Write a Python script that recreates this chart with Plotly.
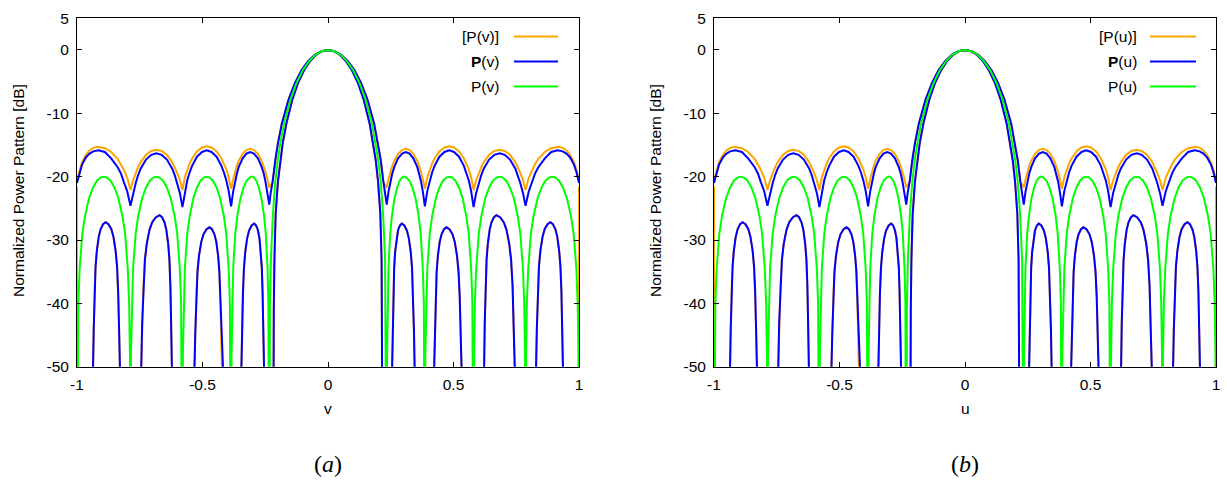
import plotly.graph_objects as go

# ---------------- data ----------------
X_TICKS = [-1, -0.5, 0, 0.5, 1]
X_TICKTEXT = ["-1", "-0.5", "0", "0.5", "1"]
Y_TICKS = [-50, -40, -30, -20, -10, 0, 5]
Y_TICKTEXT = ["-50", "-40", "-30", "-20", "-10", "0", "5"]

# upper bound of [P] (orange)
ORANGE_UP = [
    (-1.000, -20.5), (-0.990, -18.9), (-0.980, -17.7), (-0.965, -16.6), (-0.950, -15.85),
    (-0.935, -15.45), (-0.918, -15.3), (-0.889, -15.5), (-0.864, -16.1), (-0.838, -17.2),
    (-0.825, -18.0), (-0.813, -18.95), (-0.800, -20.15), (-0.787, -22.1),
    (-0.777, -20.6), (-0.766, -19.4), (-0.756, -18.45), (-0.746, -17.7), (-0.725, -16.55),
    (-0.704, -15.95), (-0.684, -15.75), (-0.663, -15.95), (-0.642, -16.55), (-0.621, -17.7),
    (-0.611, -18.45), (-0.601, -19.4), (-0.590, -20.6), (-0.580, -22.1),
    (-0.570, -20.05), (-0.561, -18.85), (-0.551, -17.9), (-0.541, -17.1), (-0.522, -16.0),
    (-0.502, -15.4), (-0.483, -15.2), (-0.464, -15.4), (-0.444, -16.0), (-0.425, -17.1),
    (-0.415, -17.9), (-0.405, -18.85), (-0.396, -20.05), (-0.386, -21.9),
    (-0.378, -20.45), (-0.371, -19.25), (-0.363, -18.3), (-0.356, -17.5), (-0.340, -16.4),
    (-0.325, -15.8), (-0.310, -15.6), (-0.295, -15.8), (-0.279, -16.4), (-0.264, -17.5),
    (-0.256, -18.3), (-0.249, -19.25), (-0.241, -20.45), (-0.234, -21.7),
    (-0.2205, -20.8), (-0.210, -17.37), (-0.1995, -14.74), (-0.184, -11.64), (-0.1575, -7.88),
    (-0.131, -5.17), (-0.105, -3.18), (-0.079, -1.75), (-0.0525, -0.76), (-0.026, -0.19),
    (0.000, 0.0),
    (0.026, -0.19), (0.0525, -0.76), (0.079, -1.75), (0.105, -3.18), (0.131, -5.17),
    (0.1575, -7.88), (0.184, -11.64), (0.1995, -14.74), (0.210, -17.37), (0.2205, -20.8),
    (0.234, -21.7), (0.241, -20.45), (0.249, -19.25), (0.256, -18.3), (0.264, -17.5),
    (0.279, -16.4), (0.295, -15.8), (0.310, -15.6), (0.325, -15.8), (0.340, -16.4),
    (0.356, -17.5), (0.363, -18.3), (0.371, -19.25), (0.378, -20.45), (0.386, -21.9),
    (0.396, -20.05), (0.405, -18.85), (0.415, -17.9), (0.425, -17.1), (0.444, -16.0),
    (0.464, -15.4), (0.483, -15.2), (0.502, -15.4), (0.522, -16.0), (0.541, -17.1),
    (0.551, -17.9), (0.561, -18.85), (0.570, -20.05), (0.580, -22.1),
    (0.590, -20.6), (0.601, -19.4), (0.611, -18.45), (0.621, -17.7), (0.642, -16.55),
    (0.663, -15.95), (0.684, -15.75), (0.704, -15.95), (0.725, -16.55), (0.746, -17.7),
    (0.756, -18.45), (0.766, -19.4), (0.777, -20.6), (0.787, -22.1),
    (0.800, -20.15), (0.813, -18.95), (0.825, -18.0), (0.838, -17.2), (0.864, -16.1),
    (0.889, -15.5), (0.918, -15.3), (0.935, -15.45), (0.950, -15.85), (0.965, -16.6),
    (0.980, -17.7), (0.990, -18.9), (1.000, -20.5),
]

# upper bound of bold P (blue)
BLUE_UP = [
    (-1.000, -21.0), (-0.990, -19.3), (-0.980, -18.1), (-0.965, -17.0), (-0.950, -16.35),
    (-0.935, -16.0), (-0.915, -15.85), (-0.889, -16.1), (-0.864, -17.1), (-0.838, -18.5),
    (-0.825, -19.5), (-0.813, -20.9), (-0.800, -22.3), (-0.787, -24.6),
    (-0.777, -22.6), (-0.766, -21.0), (-0.756, -19.7), (-0.746, -18.7), (-0.725, -17.3),
    (-0.704, -16.55), (-0.684, -16.3), (-0.663, -16.55), (-0.642, -17.3), (-0.621, -18.7),
    (-0.611, -19.7), (-0.601, -21.0), (-0.590, -22.6), (-0.580, -24.8),
    (-0.570, -22.2), (-0.561, -20.6), (-0.551, -19.3), (-0.541, -18.25), (-0.522, -16.85),
    (-0.502, -16.1), (-0.483, -15.85), (-0.464, -16.1), (-0.444, -16.85), (-0.425, -18.25),
    (-0.415, -19.3), (-0.405, -20.6), (-0.396, -22.2), (-0.386, -24.7),
    (-0.378, -22.4), (-0.371, -20.8), (-0.363, -19.5), (-0.356, -18.5), (-0.340, -17.1),
    (-0.325, -16.35), (-0.310, -16.1), (-0.295, -16.35), (-0.279, -17.1), (-0.264, -18.5),
    (-0.256, -19.5), (-0.249, -20.8), (-0.241, -22.4), (-0.234, -24.4),
    (-0.2285, -22.6), (-0.2205, -20.8), (-0.210, -17.37), (-0.1995, -14.74), (-0.184, -11.64),
    (-0.1575, -7.88), (-0.131, -5.17), (-0.105, -3.18), (-0.079, -1.75), (-0.0525, -0.76),
    (-0.026, -0.19), (0.000, 0.0),
    (0.026, -0.19), (0.0525, -0.76), (0.079, -1.75), (0.105, -3.18), (0.131, -5.17),
    (0.1575, -7.88), (0.184, -11.64), (0.1995, -14.74), (0.210, -17.37), (0.2205, -20.8),
    (0.2285, -22.6), (0.234, -24.4), (0.241, -22.4), (0.249, -20.8), (0.256, -19.5),
    (0.264, -18.5), (0.279, -17.1), (0.295, -16.35), (0.310, -16.1), (0.325, -16.35),
    (0.340, -17.1), (0.356, -18.5), (0.363, -19.5), (0.371, -20.8), (0.378, -22.4),
    (0.386, -24.7),
    (0.396, -22.2), (0.405, -20.6), (0.415, -19.3), (0.425, -18.25), (0.444, -16.85),
    (0.464, -16.1), (0.483, -15.85), (0.502, -16.1), (0.522, -16.85), (0.541, -18.25),
    (0.551, -19.3), (0.561, -20.6), (0.570, -22.2), (0.580, -24.8),
    (0.590, -22.6), (0.601, -21.0), (0.611, -19.7), (0.621, -18.7), (0.642, -17.3),
    (0.663, -16.55), (0.684, -16.3), (0.704, -16.55), (0.725, -17.3), (0.746, -18.7),
    (0.756, -19.7), (0.766, -21.0), (0.777, -22.6), (0.787, -24.6),
    (0.800, -22.3), (0.813, -20.9), (0.825, -19.5), (0.838, -18.5), (0.864, -17.1),
    (0.889, -16.1), (0.915, -15.85), (0.935, -16.0), (0.950, -16.35), (0.965, -17.0),
    (0.980, -18.1), (0.990, -19.3), (1.000, -21.0),
]

# lower bound (blue bold P; orange [P] lies underneath)
LOWER = [
    (-0.999, -80.0), (-0.936, -50.0), (-0.9335, -44.2), (-0.930, -38.2), (-0.926, -34.2),
    (-0.921, -31.7), (-0.9135, -29.5), (-0.906, -28.3), (-0.896, -27.5), (-0.886, -27.2),
    (-0.8746, -27.5), (-0.8632, -28.3), (-0.8547, -29.5), (-0.8461, -31.7), (-0.8404, -34.2),
    (-0.8358, -38.2), (-0.8319, -44.2), (-0.829, -50.0), (-0.790, -80.0),
    (-0.744, -50.0), (-0.7404, -43.1), (-0.7352, -37.1), (-0.7294, -33.1), (-0.7221, -30.6),
    (-0.7112, -28.4), (-0.7002, -27.2), (-0.6856, -26.4), (-0.671, -26.1), (-0.6612, -26.4),
    (-0.6514, -27.2), (-0.644, -28.4), (-0.6367, -30.6), (-0.6318, -33.1), (-0.6279, -37.1),
    (-0.6245, -43.1), (-0.622, -50.0), (-0.580, -80.0),
    (-0.532, -50.0), (-0.529, -45.0), (-0.5248, -39.0), (-0.520, -35.0), (-0.514, -32.5),
    (-0.505, -30.3), (-0.496, -29.1), (-0.484, -28.3), (-0.472, -28.0), (-0.4622, -28.3),
    (-0.4524, -29.1), (-0.445, -30.3), (-0.4377, -32.5), (-0.4328, -35.0), (-0.4289, -39.0),
    (-0.4255, -45.0), (-0.423, -50.0), (-0.390, -80.0),
    (-0.345, -50.0), (-0.3425, -44.4), (-0.3389, -38.4), (-0.3348, -34.4), (-0.3297, -31.9),
    (-0.322, -29.7), (-0.3144, -28.5), (-0.3042, -27.7), (-0.294, -27.4), (-0.2864, -27.7),
    (-0.2788, -28.5), (-0.2731, -29.7), (-0.2674, -31.9), (-0.2636, -34.4), (-0.2606, -38.4),
    (-0.2579, -44.4), (-0.256, -50.0), (-0.240, -80.0),
    (-0.219, -80.0), (-0.2175, -50.0), (-0.216, -41.0), (-0.2135, -33.1), (-0.2085, -25.9),
    (-0.1995, -20.8), (-0.190, -17.37), (-0.1805, -14.74), (-0.166, -11.64), (-0.1425, -7.88),
    (-0.119, -5.17), (-0.095, -3.18), (-0.071, -1.75), (-0.0475, -0.76), (-0.0238, -0.19),
    (0.000, 0.0),
    (0.0238, -0.19), (0.0475, -0.76), (0.071, -1.75), (0.095, -3.18), (0.119, -5.17),
    (0.1425, -7.88), (0.166, -11.64), (0.1805, -14.74), (0.190, -17.37), (0.1995, -20.8),
    (0.2085, -25.9), (0.2135, -33.1), (0.216, -41.0), (0.2175, -50.0), (0.219, -80.0),
    (0.240, -80.0), (0.256, -50.0), (0.2579, -44.4), (0.2606, -38.4), (0.2636, -34.4),
    (0.2674, -31.9), (0.2731, -29.7), (0.2788, -28.5), (0.2864, -27.7), (0.294, -27.4),
    (0.3042, -27.7), (0.3144, -28.5), (0.322, -29.7), (0.3297, -31.9), (0.3348, -34.4),
    (0.3389, -38.4), (0.3425, -44.4), (0.345, -50.0), (0.390, -80.0),
    (0.423, -50.0), (0.4255, -45.0), (0.4289, -39.0), (0.4328, -35.0), (0.4377, -32.5),
    (0.445, -30.3), (0.4524, -29.1), (0.4622, -28.3), (0.472, -28.0), (0.484, -28.3),
    (0.496, -29.1), (0.505, -30.3), (0.514, -32.5), (0.520, -35.0), (0.5248, -39.0),
    (0.529, -45.0), (0.532, -50.0), (0.580, -80.0),
    (0.622, -50.0), (0.6245, -43.1), (0.6279, -37.1), (0.6318, -33.1), (0.6367, -30.6),
    (0.644, -28.4), (0.6514, -27.2), (0.6612, -26.4), (0.671, -26.1), (0.6856, -26.4),
    (0.7002, -27.2), (0.7112, -28.4), (0.7221, -30.6), (0.7294, -33.1), (0.7352, -37.1),
    (0.7404, -43.1), (0.744, -50.0), (0.790, -80.0),
    (0.829, -50.0), (0.8319, -44.2), (0.8358, -38.2), (0.8404, -34.2), (0.8461, -31.7),
    (0.8547, -29.5), (0.8632, -28.3), (0.8746, -27.5), (0.886, -27.2), (0.896, -27.5),
    (0.906, -28.3), (0.9135, -29.5), (0.921, -31.7), (0.926, -34.2), (0.930, -38.2),
    (0.9335, -44.2), (0.936, -50.0), (0.999, -80.0),
]
# value of the orange lower bound at the two end points v = -1 and v = 1
ORANGE_LOW_EDGE_DB = -21.5

# single pattern P (green)
GREEN = [
    (-1.000, -80.0), (-0.9979, -48.0), (-0.9947, -40.0), (-0.9894, -34.5), (-0.9787, -29.0),
    (-0.968, -26.2), (-0.952, -23.4), (-0.936, -21.7), (-0.920, -20.6), (-0.904, -20.1),
    (-0.8935, -20.0), (-0.883, -20.1), (-0.867, -20.6), (-0.851, -21.7), (-0.835, -23.4),
    (-0.819, -26.2), (-0.8083, -29.0), (-0.7977, -34.5), (-0.7923, -40.0), (-0.7891, -48.0),
    (-0.787, -80.0),
    (-0.7849, -48.0), (-0.7818, -40.0), (-0.7767, -34.5), (-0.7663, -29.0), (-0.756, -26.2),
    (-0.7404, -23.4), (-0.7249, -21.7), (-0.7094, -20.6), (-0.6939, -20.1), (-0.6835, -20.0),
    (-0.6732, -20.1), (-0.6576, -20.6), (-0.6421, -21.7), (-0.6266, -23.4), (-0.611, -26.2),
    (-0.6007, -29.0), (-0.5904, -34.5), (-0.5852, -40.0), (-0.5821, -48.0), (-0.580, -80.0),
    (-0.5781, -48.0), (-0.5752, -40.0), (-0.5703, -34.5), (-0.5606, -29.0), (-0.5509, -26.2),
    (-0.5364, -23.4), (-0.5218, -21.7), (-0.5073, -20.6), (-0.4927, -20.1), (-0.483, -20.0),
    (-0.4733, -20.1), (-0.4588, -20.6), (-0.4442, -21.7), (-0.4297, -23.4), (-0.4151, -26.2),
    (-0.4054, -29.0), (-0.3957, -34.5), (-0.3909, -40.0), (-0.3879, -48.0), (-0.386, -80.0),
    (-0.3843, -48.0), (-0.3819, -40.0), (-0.3777, -34.5), (-0.3694, -29.0), (-0.3611, -26.2),
    (-0.3487, -23.4), (-0.3362, -21.7), (-0.3238, -20.6), (-0.3113, -20.1), (-0.303, -20.0),
    (-0.2961, -20.1), (-0.2858, -20.6), (-0.2754, -21.7), (-0.2651, -23.4), (-0.2547, -26.2),
    (-0.2478, -29.0), (-0.2409, -34.5), (-0.2375, -40.0), (-0.2354, -48.0), (-0.234, -80.0),
    (-0.2315, -41.0), (-0.2275, -33.1), (-0.2195, -25.9), (-0.210, -20.8), (-0.200, -17.37),
    (-0.190, -14.74), (-0.175, -11.64), (-0.150, -7.88), (-0.125, -5.17), (-0.100, -3.18),
    (-0.075, -1.75), (-0.050, -0.76), (-0.025, -0.19), (0.000, 0.0),
    (0.025, -0.19), (0.050, -0.76), (0.075, -1.75), (0.100, -3.18), (0.125, -5.17),
    (0.150, -7.88), (0.175, -11.64), (0.190, -14.74), (0.200, -17.37), (0.210, -20.8),
    (0.2195, -25.9), (0.2275, -33.1), (0.2315, -41.0), (0.234, -80.0),
    (0.2354, -48.0), (0.2375, -40.0), (0.2409, -34.5), (0.2478, -29.0), (0.2547, -26.2),
    (0.2651, -23.4), (0.2754, -21.7), (0.2858, -20.6), (0.2961, -20.1), (0.303, -20.0),
    (0.3113, -20.1), (0.3238, -20.6), (0.3362, -21.7), (0.3487, -23.4), (0.3611, -26.2),
    (0.3694, -29.0), (0.3777, -34.5), (0.3819, -40.0), (0.3843, -48.0), (0.386, -80.0),
    (0.3879, -48.0), (0.3909, -40.0), (0.3957, -34.5), (0.4054, -29.0), (0.4151, -26.2),
    (0.4297, -23.4), (0.4442, -21.7), (0.4588, -20.6), (0.4733, -20.1), (0.483, -20.0),
    (0.4927, -20.1), (0.5073, -20.6), (0.5218, -21.7), (0.5364, -23.4), (0.5509, -26.2),
    (0.5606, -29.0), (0.5703, -34.5), (0.5752, -40.0), (0.5781, -48.0), (0.580, -80.0),
    (0.5821, -48.0), (0.5852, -40.0), (0.5904, -34.5), (0.6007, -29.0), (0.611, -26.2),
    (0.6266, -23.4), (0.6421, -21.7), (0.6576, -20.6), (0.6732, -20.1), (0.6835, -20.0),
    (0.6939, -20.1), (0.7094, -20.6), (0.7249, -21.7), (0.7404, -23.4), (0.756, -26.2),
    (0.7663, -29.0), (0.7767, -34.5), (0.7818, -40.0), (0.7849, -48.0), (0.787, -80.0),
    (0.7891, -48.0), (0.7923, -40.0), (0.7977, -34.5), (0.8083, -29.0), (0.819, -26.2),
    (0.835, -23.4), (0.851, -21.7), (0.867, -20.6), (0.883, -20.1), (0.8935, -20.0),
    (0.904, -20.1), (0.920, -20.6), (0.936, -21.7), (0.952, -23.4), (0.968, -26.2),
    (0.9787, -29.0), (0.9894, -34.5), (0.9947, -40.0), (0.9979, -48.0), (1.000, -80.0),
]

PANEL_VARS = ["v", "u"]
PANEL_CAPTIONS = ["a", "b"]
Y_TITLE = "Normalized Power Pattern [dB]"

ORANGE = "#FFA500"
BLUE = "#0000FF"
GREEN_C = "#00FF00"

# ---------------- figure ----------------
W, H = 1227, 487
FONT = "Liberation Sans, Arial, sans-serif"
FS = 15.5


def px_x(p):
    return p / W


def px_y(p):
    return 1 - p / H


orange_low = [(-1.0, ORANGE_LOW_EDGE_DB)] + LOWER + [(1.0, ORANGE_LOW_EDGE_DB)]
series = [
    (ORANGE_UP, ORANGE), (orange_low, ORANGE),
    (BLUE_UP, BLUE), (LOWER, BLUE),
    (GREEN, GREEN_C),
]

fig = go.Figure()
for i in range(2):
    xa = "x" if i == 0 else "x2"
    ya = "y" if i == 0 else "y2"
    for pts, col in series:
        fig.add_trace(go.Scatter(
            x=[p[0] for p in pts], y=[p[1] for p in pts],
            mode="lines", line=dict(color=col, width=2),
            xaxis=xa, yaxis=ya, showlegend=False, hoverinfo="skip"))

x_domains = [[px_x(77), px_x(579)], [px_x(714), px_x(1216)]]
y_domain = [px_y(366.7), px_y(18.3)]

axis_common = dict(
    showline=True, linecolor="black", linewidth=1, mirror="ticks",
    ticks="inside", ticklen=5, tickwidth=1, tickcolor="black",
    showgrid=False, zeroline=False, automargin=False,
    tickfont=dict(family=FONT, size=FS, color="black"),
    ticklabelstandoff=4,
)

layout_axes = {}
for i in range(2):
    sx = "" if i == 0 else "2"
    layout_axes["xaxis" + sx] = dict(
        axis_common, domain=x_domains[i], range=[-1, 1],
        tickvals=X_TICKS, ticktext=X_TICKTEXT,
        anchor="y" + sx)
    layout_axes["yaxis" + sx] = dict(
        axis_common, domain=y_domain, range=[-50, 5],
        tickvals=Y_TICKS, ticktext=Y_TICKTEXT,
        anchor="x" + sx)

annotations = []
shapes = []
centers = [328, 965]
ytitle_x = [18, 655]
legend_text_right = [501, 1139]
legend_line = [(514, 558), (1150, 1196)]
legend_y = [36.5, 61.5, 86.5]
for i in range(2):
    var = PANEL_VARS[i]
    annotations.append(dict(
        x=px_x(ytitle_x[i]), y=px_y(191), xref="paper", yref="paper",
        text=Y_TITLE, textangle=-90, showarrow=False,
        font=dict(family=FONT, size=FS, color="black"),
        xanchor="center", yanchor="middle"))
    annotations.append(dict(
        x=px_x(centers[i]), y=px_y(408), xref="paper", yref="paper",
        text=var, showarrow=False,
        font=dict(family=FONT, size=FS, color="black"),
        xanchor="center", yanchor="middle"))
    annotations.append(dict(
        x=px_x(centers[i]), y=px_y(464), xref="paper", yref="paper",
        text="(<i>" + PANEL_CAPTIONS[i] + "</i>)", showarrow=False,
        font=dict(family="Liberation Serif, serif", size=24, color="black"),
        xanchor="center", yanchor="middle"))
    labels = ["[P(" + var + ")]", "<b>P</b>(" + var + ")", "P(" + var + ")"]
    cols = [ORANGE, BLUE, GREEN_C]
    for k in range(3):
        annotations.append(dict(
            x=px_x(legend_text_right[i]), y=px_y(legend_y[k]),
            xref="paper", yref="paper", text=labels[k], showarrow=False,
            font=dict(family=FONT, size=FS, color="black"),
            xanchor="right", yanchor="middle"))
        shapes.append(dict(
            type="line", xref="paper", yref="paper",
            x0=px_x(legend_line[i][0]), x1=px_x(legend_line[i][1]),
            y0=px_y(legend_y[k]), y1=px_y(legend_y[k]),
            line=dict(color=cols[k], width=2)))

fig.update_layout(
    width=W, height=H,
    margin=dict(l=0, r=0, t=0, b=0),
    paper_bgcolor="white", plot_bgcolor="white",
    showlegend=False, hovermode=False,
    annotations=annotations, shapes=shapes,
    **layout_axes,
)

# place the 1227x487 figure flush with the window (no default page margin)
fig.write_html(
    "out.html",
    config={"displayModeBar": False},
    post_script="document.body.style.margin='0';document.body.style.overflow='hidden';",
)
